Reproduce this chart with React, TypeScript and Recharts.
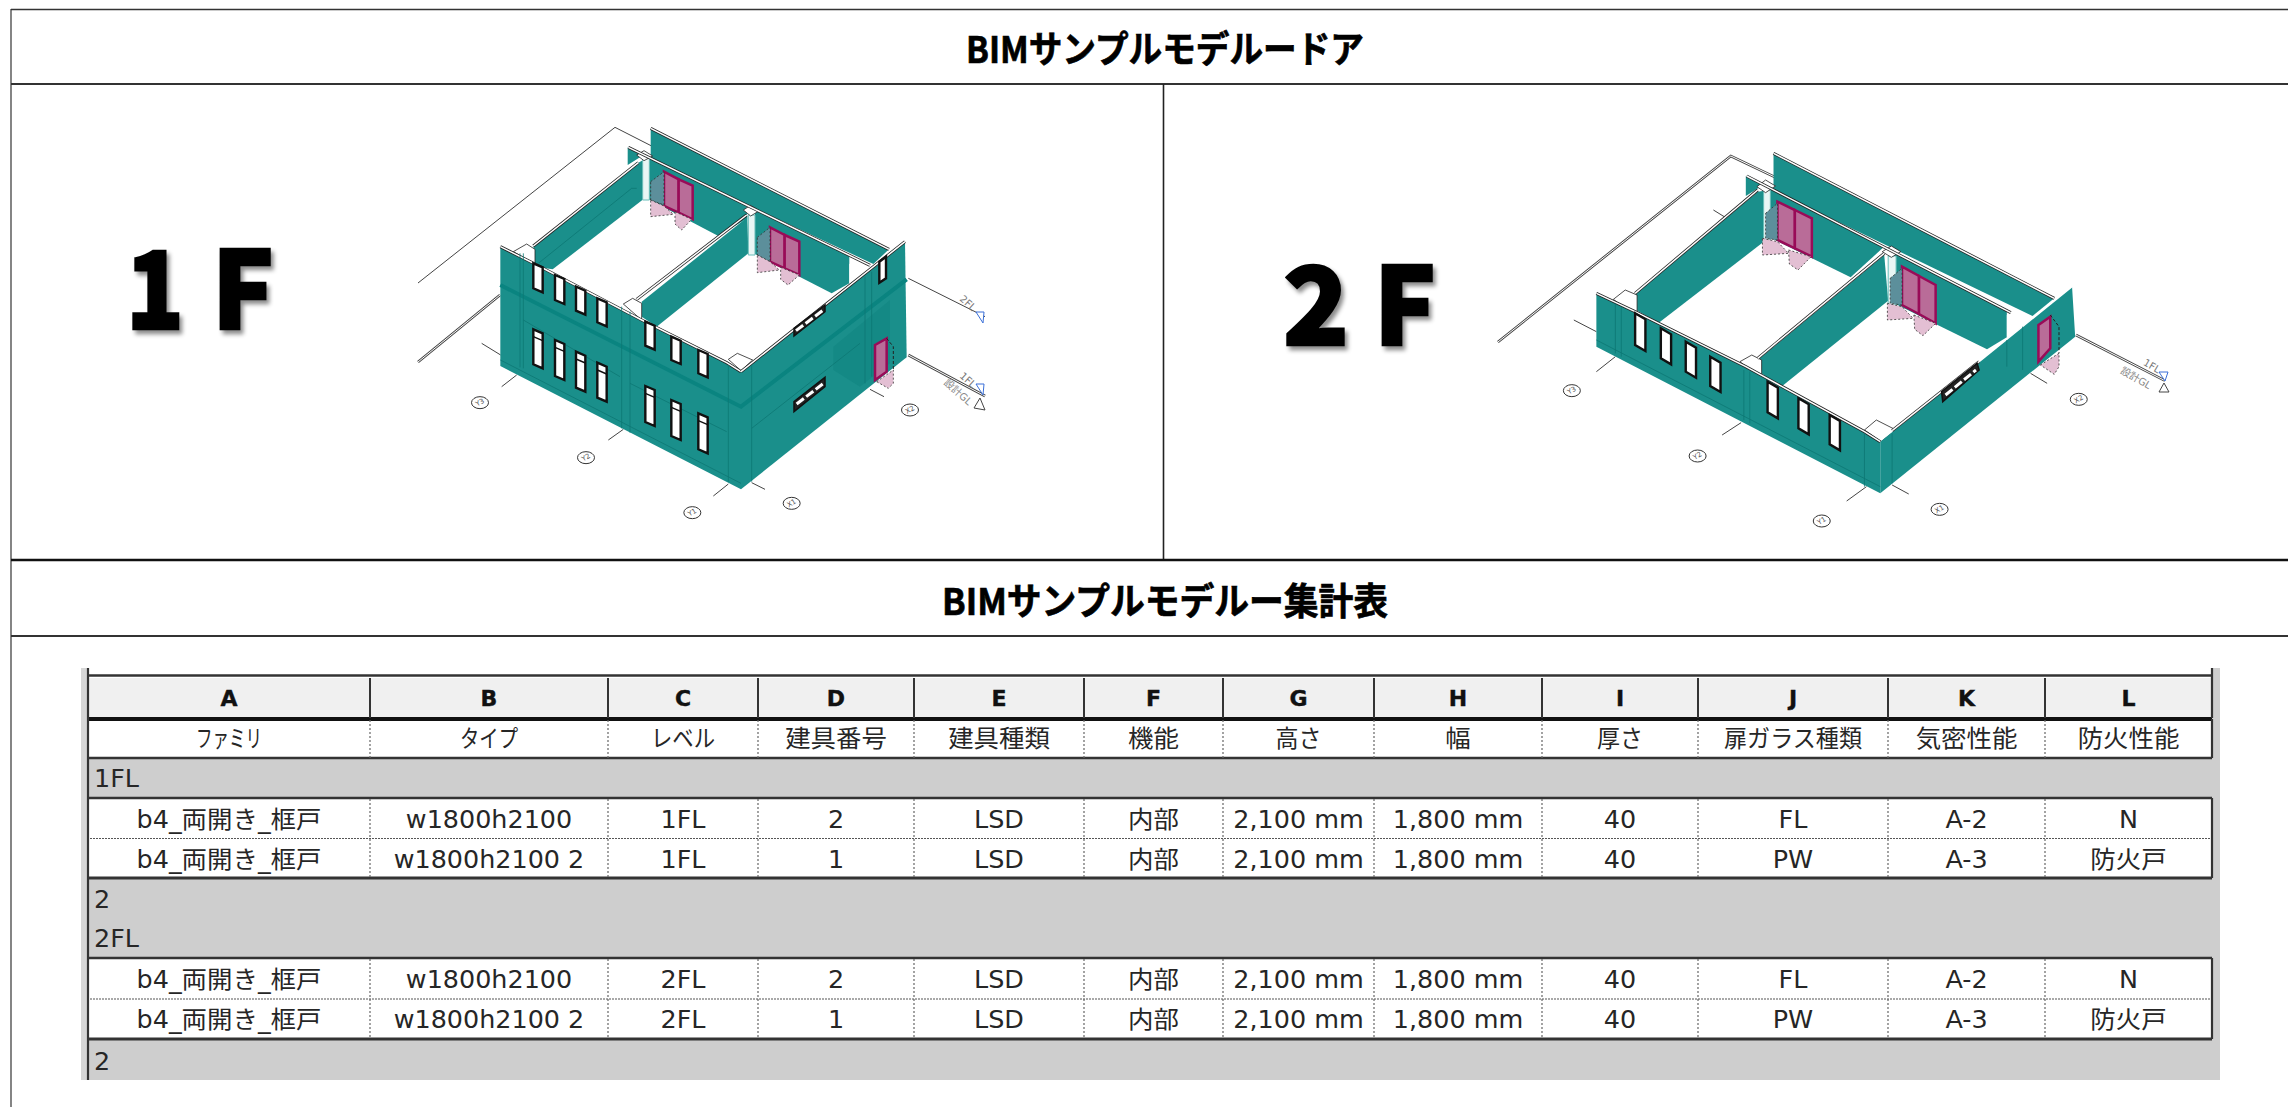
import React from "react";
import { ComposedChart, Scatter, XAxis, YAxis } from "recharts";

const W = 2288, H = 1107;
const CJK = "'DejaVu Sans','Noto Sans CJK JP',sans-serif";
const TEAL = "#1a8f8b", DARK = "#0a8480", INK = "#262626", RULE = "#333333";

/* ---------- text content ---------- */
const titleDoors = "BIMサンプルモデルードア";
const titleTable = "BIMサンプルモデルー集計表";
const columnLetters = ["A", "B", "C", "D", "E", "F", "G", "H", "I", "J", "K", "L"];
const columnNames = ["ファミリ", "タイプ", "レベル", "建具番号", "建具種類", "機能", "高さ", "幅", "厚さ", "扉ガラス種類", "気密性能", "防火性能"];
const doorRow1 = ["b4_両開き_框戸", "w1800h2100", "1FL", "2", "LSD", "内部", "2,100 mm", "1,800 mm", "40", "FL", "A-2", "N"];
const doorRow2 = ["b4_両開き_框戸", "w1800h2100 2", "1FL", "1", "LSD", "内部", "2,100 mm", "1,800 mm", "40", "PW", "A-3", "防火戸"];
const doorRow3 = ["b4_両開き_框戸", "w1800h2100", "2FL", "2", "LSD", "内部", "2,100 mm", "1,800 mm", "40", "FL", "A-2", "N"];
const doorRow4 = ["b4_両開き_框戸", "w1800h2100 2", "2FL", "1", "LSD", "内部", "2,100 mm", "1,800 mm", "40", "PW", "A-3", "防火戸"];
const groupLabels = ["1FL", "2", "2FL", "2"];

/* ---------- table layout ---------- */
const colEdges = [88, 370, 608, 758, 914, 1084, 1223, 1374, 1542, 1698, 1888, 2045, 2212];
const colCentres = colEdges.slice(0, -1).map((e, i) => (e + colEdges[i + 1]) / 2);
const narrowWidths: Record<string, number> = { "ファミリ": 66, "タイプ": 58, "レベル": 64, "扉ガラス種類": 138, "高さ": 46, "厚さ": 46 };

type P = [number, number];
type Sh = { p: P[]; s: string };

const styles: Record<string, any> = {
  teal: { fill: TEAL },
  dark: { fill: "#148985" },
  white: { fill: "#ffffff" },
  whiteEdge: { fill: "#ffffff", stroke: "#222", sw: 0.8 },
  window: { fill: "#ffffff", stroke: "#111", sw: 2.4 },
  blackWin: { fill: "#222", stroke: "#111", sw: 1.5 },
  door: { fill: "#b96c98", stroke: "#990b58", sw: 2.5 },
  swing: { fill: "#e3bfd3", stroke: "#333", sw: 0.8, dash: "2 2" },
  swingUp: { fill: "#5c8f9b", stroke: "#333", sw: 0.8, dash: "2 2" },
  line: { fill: "none", stroke: "#444", sw: 1 },
  double: { fill: "none", stroke: "#444", sw: 2.6 },
  doubleIn: { fill: "none", stroke: "#fff", sw: 1 },
  band: { fill: "none", stroke: DARK, sw: 4 },
  detail: { fill: "none", stroke: "#0d7774", sw: 0.8 },
  cap: { fill: "none", stroke: "#222", sw: 3 },
  capW: { fill: "none", stroke: "#ffffff", sw: 1.5 },
  white2: { fill: "#e9f6f5", stroke: "#69bdb9", sw: 1 },
  dashBlack: { fill: "none", stroke: "#222", sw: 1, dash: "3 2" },
  slit: { fill: "none", stroke: "#fff", sw: 3, dash: "9 3" },
  mull: { fill: "none", stroke: "#111", sw: 1.4 },
};

/* ---------- 1F model, in zoom-crop units ---------- */
const z5 = ([x, y]: P): P => [460 + x / 3, 120 + y / 3];
const z6 = ([x, y]: P): P => [1560 + x * 0.3954, 140 + y / 3];

const win1Upper: number[][] = [[220, 430, 75], [285, 465, 75], [348, 500, 72], [412, 535, 72], [556, 605, 72], [634, 650, 70], [715, 690, 70]];
const win1Lower: number[][] = [[220, 628, 105], [285, 660, 108], [348, 695, 108], [412, 728, 105], [556, 798, 108], [634, 840, 108], [715, 880, 108]];
const win2Upper: number[][] = [[190, 520, 95], [255, 565, 90], [318, 605, 90], [380, 650, 88], [525, 725, 92], [603, 775, 90], [682, 825, 88]];

const windowShape = (x: number, y: number, h: number, w: number, dy: number): Sh => ({
  p: [[x, y], [x + w, y + dy], [x + w, y + dy + h], [x, y + h]], s: "window",
});
const transom = (x: number, y: number, w: number, dy: number): Sh => ({
  p: [[x, y + 22], [x + w, y + 22 + dy]], s: "mull",
});

const model1: Sh[] = [
  { p: [[-126, 489], [465, 22], [575, 78]], s: "line" },
  { p: [[1345, 475], [1575, 590]], s: "line" },
  { p: [[-126, 726], [120, 525]], s: "double" },
  { p: [[-126, 726], [120, 525]], s: "doubleIn" },
  { p: [[1345, 705], [1575, 828]], s: "double" },
  { p: [[1345, 705], [1575, 828]], s: "doubleIn" },
  { p: [[65, 670], [122, 705]], s: "line" },
  { p: [[125, 800], [170, 765]], s: "line" },
  { p: [[445, 960], [490, 928]], s: "line" },
  { p: [[760, 1128], [805, 1092]], s: "line" },
  { p: [[875, 1088], [915, 1108]], s: "line" },
  { p: [[1230, 808], [1272, 830]], s: "line" },
  { p: [[572, 25], [1287, 388], [1240, 432], [572, 118]], s: "teal" },
  { p: [[503, 82], [552, 104], [503, 135]], s: "teal" },
  { p: [[572, 25], [1287, 388]], s: "cap" },
  { p: [[572, 25], [1287, 388]], s: "capW" },
  { p: [[565, 112], [860, 256], [862, 295], [775, 348], [565, 238]], s: "teal" },
  { p: [[885, 266], [1168, 405], [1168, 490], [1115, 520], [885, 402]], s: "teal" },
  { p: [[220, 378], [535, 128], [550, 120], [550, 238], [278, 448], [225, 440]], s: "teal" },
  { p: [[545, 545], [862, 292], [865, 400], [590, 620], [545, 590]], s: "teal" },
  { p: [[235, 430], [515, 205], [530, 205]], s: "detail" },
  { p: [[548, 112], [568, 112], [568, 240], [548, 240]], s: "white2" },
  { p: [[865, 285], [885, 285], [885, 405], [865, 405]], s: "white2" },
  { p: [[530, 105], [552, 92], [578, 108], [552, 122]], s: "whiteEdge" },
  { p: [[850, 270], [872, 256], [898, 272], [872, 288]], s: "whiteEdge" },
  { p: [[1168, 432], [1195, 420], [1228, 440], [1205, 465], [1205, 495], [1168, 490]], s: "white" },
  { p: [[160, 395], [200, 372], [225, 388], [225, 430], [195, 415]], s: "whiteEdge" },
  { p: [[490, 552], [518, 535], [545, 550], [545, 600]], s: "whiteEdge" },
  { p: [[805, 718], [832, 700], [878, 720], [843, 752]], s: "whiteEdge" },
  { p: [[220, 378], [535, 128]], s: "cap" },
  { p: [[220, 378], [535, 128]], s: "capW" },
  { p: [[530, 538], [860, 285]], s: "cap" },
  { p: [[530, 538], [860, 285]], s: "capW" },
  { p: [[505, 82], [1230, 436]], s: "cap" },
  { p: [[505, 82], [1230, 436]], s: "capW" },
  { p: [[612, 155], [656, 178], [656, 278], [612, 258]], s: "door" },
  { p: [[656, 178], [698, 197], [698, 298], [656, 278]], s: "door" },
  { p: [[572, 185], [612, 155], [612, 255], [572, 240]], s: "swingUp" },
  { p: [[572, 240], [612, 258], [640, 283], [572, 290]], s: "swing" },
  { p: [[645, 275], [695, 298], [665, 330], [645, 312]], s: "swing" },
  { p: [[930, 322], [974, 345], [974, 445], [930, 425]], s: "door" },
  { p: [[974, 345], [1018, 365], [1018, 465], [974, 445]], s: "door" },
  { p: [[892, 352], [930, 322], [930, 425], [892, 405]], s: "swingUp" },
  { p: [[892, 405], [930, 425], [958, 450], [892, 458]], s: "swing" },
  { p: [[962, 442], [1018, 465], [984, 495], [962, 478]], s: "swing" },
  { p: [[121, 380], [225, 432], [545, 600], [800, 728], [843, 755], [843, 1108], [121, 738]], s: "teal" },
  { p: [[843, 755], [1095, 555], [1335, 365], [1340, 712], [843, 1108]], s: "teal" },
  { p: [[121, 380], [225, 432]], s: "cap" },
  { p: [[121, 380], [225, 432]], s: "capW" },
  { p: [[225, 432], [545, 600], [800, 728], [843, 755]], s: "cap" },
  { p: [[225, 432], [545, 600], [800, 728], [843, 755]], s: "capW" },
  { p: [[843, 755], [1095, 555], [1335, 365]], s: "cap" },
  { p: [[843, 755], [1095, 555], [1335, 365]], s: "capW" },
  { p: [[1120, 750], [1200, 800], [1290, 730], [1290, 540], [1120, 680]], s: "dark" },
  { p: [[121, 495], [843, 860], [1340, 478]], s: "band" },
  { p: [[190, 400], [190, 745]], s: "detail" },
  { p: [[180, 400], [180, 742]], s: "detail" },
  { p: [[485, 560], [485, 925]], s: "detail" },
  { p: [[510, 575], [510, 938]], s: "detail" },
  { p: [[805, 735], [805, 1085]], s: "detail" },
  { p: [[875, 735], [875, 1085]], s: "detail" },
  { p: [[875, 925], [1200, 670]], s: "detail" },
  { p: [[1215, 470], [1215, 790]], s: "detail" },
  { p: [[1235, 455], [1235, 770]], s: "detail" },
  { p: [[121, 720], [843, 1090]], s: "detail" },
  { p: [[190, 600], [480, 770]], s: "detail" },
  { p: [[510, 790], [800, 935]], s: "detail" },
  { p: [[1002, 845], [1095, 772], [1095, 800], [1002, 875]], s: "blackWin" },
  { p: [[1010, 852], [1088, 792]], s: "slit" },
  { p: [[1002, 625], [1095, 555], [1095, 575], [1002, 648]], s: "blackWin" },
  { p: [[1008, 632], [1090, 570]], s: "slit" },
  { p: [[1258, 425], [1278, 410], [1278, 475], [1258, 488]], s: "window" },
  { p: [[1245, 675], [1280, 655], [1280, 755], [1245, 780]], s: "door" },
  { p: [[1250, 785], [1300, 750], [1300, 790], [1285, 805]], s: "swing" },
  { p: [[1280, 655], [1300, 680], [1300, 750]], s: "dashBlack" },
];

/* ---------- 2F model ---------- */
const model2: Sh[] = [
  { p: [[-157, 606], [432, 48], [545, 112]], s: "double" },
  { p: [[-157, 606], [432, 48], [545, 112]], s: "doubleIn" },
  { p: [[1305, 585], [1530, 722]], s: "double" },
  { p: [[1305, 585], [1530, 722]], s: "doubleIn" },
  { p: [[35, 540], [92, 575]], s: "line" },
  { p: [[92, 695], [140, 650]], s: "line" },
  { p: [[410, 885], [458, 848]], s: "line" },
  { p: [[725, 1083], [775, 1040]], s: "line" },
  { p: [[840, 1035], [882, 1062]], s: "line" },
  { p: [[1190, 700], [1232, 730]], s: "line" },
  { p: [[388, 210], [418, 232]], s: "line" },
  { p: [[540, 40], [1250, 475], [1195, 528], [540, 152]], s: "teal" },
  { p: [[470, 108], [518, 132], [470, 168]], s: "teal" },
  { p: [[540, 40], [1250, 475]], s: "cap" },
  { p: [[540, 40], [1250, 475]], s: "capW" },
  { p: [[530, 146], [818, 322], [735, 412], [530, 292]], s: "teal" },
  { p: [[845, 338], [1130, 512], [1130, 592], [1080, 628], [950, 552], [845, 490]], s: "teal" },
  { p: [[190, 462], [500, 155], [530, 150], [530, 292], [250, 548], [195, 512]], s: "teal" },
  { p: [[505, 655], [820, 345], [830, 482], [555, 745], [510, 700]], s: "teal" },
  { p: [[515, 150], [532, 150], [532, 300], [515, 300]], s: "white2" },
  { p: [[830, 348], [850, 348], [850, 495], [830, 495]], s: "white2" },
  { p: [[498, 140], [520, 120], [545, 138], [520, 158]], s: "whiteEdge" },
  { p: [[815, 335], [838, 318], [862, 335], [838, 352]], s: "whiteEdge" },
  { p: [[1130, 525], [1155, 512], [1190, 535], [1165, 560], [1165, 610], [1130, 590]], s: "white" },
  { p: [[135, 478], [165, 450], [195, 465], [195, 515], [160, 500]], s: "whiteEdge" },
  { p: [[455, 665], [485, 645], [510, 660], [510, 715]], s: "whiteEdge" },
  { p: [[770, 870], [800, 840], [850, 870], [812, 905]], s: "whiteEdge" },
  { p: [[190, 460], [500, 150]], s: "cap" },
  { p: [[190, 460], [500, 150]], s: "capW" },
  { p: [[500, 655], [820, 340]], s: "cap" },
  { p: [[500, 655], [820, 340]], s: "capW" },
  { p: [[472, 108], [1140, 518]], s: "cap" },
  { p: [[472, 108], [1140, 518]], s: "capW" },
  { p: [[550, 185], [594, 210], [594, 325], [550, 300]], s: "door" },
  { p: [[594, 210], [637, 235], [637, 350], [594, 325]], s: "door" },
  { p: [[520, 220], [550, 190], [550, 300], [520, 295]], s: "swingUp" },
  { p: [[512, 295], [550, 305], [578, 340], [512, 345]], s: "swing" },
  { p: [[578, 330], [635, 350], [602, 390], [580, 372]], s: "swing" },
  { p: [[865, 380], [908, 408], [908, 522], [865, 495]], s: "door" },
  { p: [[908, 408], [950, 435], [950, 550], [908, 522]], s: "door" },
  { p: [[835, 415], [865, 385], [865, 495], [835, 490]], s: "swingUp" },
  { p: [[828, 490], [865, 500], [893, 535], [828, 540]], s: "swing" },
  { p: [[895, 525], [950, 550], [918, 587], [897, 568]], s: "swing" },
  { p: [[92, 460], [190, 515], [470, 680], [770, 875], [810, 905], [810, 1060], [92, 620]], s: "teal" },
  { p: [[810, 905], [1060, 665], [1295, 440], [1303, 590], [810, 1060]], s: "teal" },
  { p: [[92, 460], [190, 515]], s: "cap" },
  { p: [[92, 460], [190, 515]], s: "capW" },
  { p: [[190, 515], [470, 680], [770, 875], [810, 905]], s: "cap" },
  { p: [[190, 515], [470, 680], [770, 875], [810, 905]], s: "capW" },
  { p: [[840, 872], [1060, 665]], s: "cap" },
  { p: [[840, 872], [1060, 665]], s: "capW" },
  { p: [[1060, 665], [1295, 440]], s: "capW" },
  { p: [[92, 600], [810, 1040]], s: "detail" },
  { p: [[140, 490], [140, 640]], s: "detail" },
  { p: [[155, 500], [155, 650]], s: "detail" },
  { p: [[465, 690], [465, 840]], s: "detail" },
  { p: [[480, 695], [480, 850]], s: "detail" },
  { p: [[770, 880], [770, 1040]], s: "detail" },
  { p: [[840, 880], [840, 1030]], s: "detail" },
  { p: [[1130, 600], [1130, 680]], s: "detail" },
  { p: [[1170, 560], [1170, 690]], s: "detail" },
  { p: [[965, 755], [1055, 670], [1060, 690], [968, 785]], s: "blackWin" },
  { p: [[975, 765], [1052, 690]], s: "slit" },
  { p: [[1210, 555], [1240, 530], [1240, 625], [1210, 665]], s: "door" },
  { p: [[1215, 675], [1262, 640], [1262, 680], [1250, 703]], s: "swing" },
  { p: [[1240, 525], [1262, 560], [1262, 640]], s: "dashBlack" },
];

type Mark = { x: number; y: number; text: string; rot?: number; color?: string };
const bubbles1: P[] = [[60, 848], [378, 1013], [697, 1178], [995, 1150], [1350, 870]].map((p) => z5(p as P));
const bubbles2: P[] = [[30, 752], [348, 948], [662, 1143], [960, 1108], [1312, 778]].map((p) => z6(p as P));
const bubbleNames = ["Y3", "Y2", "Y1", "X1", "X2"];

const levelMarks: Mark[] = [
  { x: 968, y: 303, text: "2FL", rot: 42, color: "#777" },
  { x: 968, y: 380, text: "1FL", rot: 42, color: "#777" },
  { x: 958, y: 392, text: "設計GL", rot: 42, color: "#888" },
  { x: 2152, y: 366, text: "1FL", rot: 30, color: "#777" },
  { x: 2136, y: 378, text: "設計GL", rot: 30, color: "#888" },
];
const levelTris: { p: P[]; c: string }[] = [
  { p: [[976, 312], [984, 312], [983, 323]], c: "#3a6fd8" },
  { p: [[976, 384], [984, 384], [983, 395]], c: "#3a6fd8" },
  { p: [[980, 398], [985, 410], [974, 408]], c: "#444" },
  { p: [[2159, 372], [2168, 372], [2165, 381]], c: "#3a6fd8" },
  { p: [[2164, 383], [2169, 392], [2159, 392]], c: "#444" },
];

/* ---------- page rules ---------- */
const rect = (x0: number, y0: number, x1: number, y1: number): P[] => [[x0, y0], [x1, y0], [x1, y1], [x0, y1]];
const toRow = (e: string[], y: number) => e.map((text, i) => ({ x: colCentres[i], y, text }));

const noDot = () => <g />;
const polyLine = (fill: string, stroke?: string, sw?: number, dash?: string) => (props: any) => {
  const pts = (props.points || []).map((q: any) => `${q.x},${q.y}`).join(" ");
  return fill === "none"
    ? <polyline points={pts} fill="none" stroke={stroke} strokeWidth={sw} strokeDasharray={dash} />
    : <polygon points={pts} fill={fill} stroke={stroke} strokeWidth={sw} strokeDasharray={dash} />;
};

let uid = 0;
const draw = (p: P[], fill: string, stroke?: string, sw?: number, dash?: string) => (
  <Scatter key={`s${uid++}`} data={p.map(([x, y]) => ({ x, y }))} line={polyLine(fill, stroke, sw, dash) as any} shape={noDot as any} isAnimationActive={false} />
);
const hline = (y: number, x0: number, x1: number, sw: number, color = RULE, dash?: string) => draw([[x0, y], [x1, y]], "none", color, sw, dash);
const vline = (x: number, y0: number, y1: number, sw: number, color = RULE, dash?: string) => draw([[x, y0], [x, y1]], "none", color, sw, dash);
const drawShape = (sh: Sh, conv: (p: P) => P) => {
  const st = styles[sh.s];
  return draw(sh.p.map(conv), st.fill, st.stroke, st.sw, st.dash);
};

const textSeries = (data: any[], render: (p: any) => React.ReactElement) => (
  <Scatter key={`t${uid++}`} data={data} shape={render as any} isAnimationActive={false} />
);

const cellText = (p: any) => {
  const t: string = p.payload.text;
  const fixed = narrowWidths[t];
  const sx = 1.06;
  return (
    <text
      transform={`translate(${p.cx},${p.cy}) scale(${fixed ? 1 : sx},1)`}
      textAnchor="middle" dominantBaseline="central"
      fontFamily={CJK} fontSize={24} fill={INK}
      {...(fixed ? { textLength: fixed, lengthAdjust: "spacingAndGlyphs" } : {})}
    >{t}</text>
  );
};
const groupText = (p: any) => (
  <text transform={`translate(${p.cx},${p.cy}) scale(1.06,1)`} dominantBaseline="central" fontFamily={CJK} fontSize={24} fill={INK}>{p.payload.text}</text>
);
const letterText = (p: any) => (
  <text x={p.cx} y={p.cy} textAnchor="middle" dominantBaseline="central" fontFamily="'DejaVu Sans',sans-serif" fontWeight={700} fontSize={22} fill="#111" stroke="#111" strokeWidth={0.4}>{p.payload.text}</text>
);
const titleText = (p: any) => (
  <text x={p.cx} y={p.cy} textAnchor="middle" dominantBaseline="central" fontFamily="'Noto Sans CJK JP',sans-serif" fontWeight={700} fontSize={37} fill="#000" stroke="#000" strokeWidth={0.7} textLength={p.payload.w} lengthAdjust="spacingAndGlyphs">{p.payload.text}</text>
);
const bigText = (p: any) => (
  <text x={p.cx} y={p.cy} textAnchor="start" fontFamily="'Noto Sans CJK JP',sans-serif" fontWeight={900} fontSize={108} fill="#000" stroke="#000" strokeWidth={2.5} textLength={p.payload.w} lengthAdjust="spacingAndGlyphs" style={{ filter: "drop-shadow(3px 4px 2px rgba(0,0,0,0.45))" }}>{p.payload.text}</text>
);
const bubble = (p: any) => (
  <g>
    <ellipse cx={p.cx} cy={p.cy} rx={8.5} ry={6} fill="#fff" stroke="#333" strokeWidth={1} />
    <text x={p.cx} y={p.cy} textAnchor="middle" dominantBaseline="central" fontSize={7} fontFamily={CJK} fill="#555" transform={`rotate(-30 ${p.cx} ${p.cy})`}>{p.payload.text}</text>
  </g>
);
const levelText = (p: any) => (
  <text x={p.cx} y={p.cy} textAnchor="middle" dominantBaseline="central" fontSize={10} fontFamily={CJK} fill={p.payload.color} transform={`rotate(${p.payload.rot} ${p.cx} ${p.cy})`}>{p.payload.text}</text>
);

const tableRows = [
  { cells: doorRow1, y: 819.5 },
  { cells: doorRow2, y: 859.5 },
  { cells: doorRow3, y: 979.5 },
  { cells: doorRow4, y: 1019.5 },
];
const groupYs = [779, 900, 939, 1062];

export default function App() {
  uid = 0;
  const innerCols = colEdges.slice(1, -1);
  return (
    <div style={{ position: "absolute", left: 0, top: 0, width: W, height: H, background: "#fff" }}>
      <ComposedChart width={W} height={H} margin={{ top: 0, right: 0, bottom: 0, left: 0 }} style={{ background: "#fff" }}>
        <XAxis type="number" dataKey="x" domain={[0, W]} hide />
        <YAxis type="number" dataKey="y" domain={[0, H]} reversed hide />

        {/* sheet frame */}
        {hline(9.5, 11, W, 1.5)}
        {vline(11, 9, H, 1.2)}
        {hline(84, 11, W, 2)}
        {vline(1163.5, 84, 560, 1.6, "#222")}
        {hline(560, 11, W, 2.5, "#111")}
        {hline(636, 11, W, 2)}

        {textSeries([{ x: 1165, y: 47, text: titleDoors, w: 398 }], titleText)}
        {textSeries([{ x: 1165, y: 599, text: titleTable, w: 446 }], titleText)}
        {textSeries([{ x: 126, y: 329, text: "1", w: 58 }], bigText)}
        {textSeries([{ x: 212, y: 329, text: "F", w: 62 }], bigText)}
        {textSeries([{ x: 1283, y: 345, text: "2", w: 66 }], bigText)}
        {textSeries([{ x: 1374, y: 345, text: "F", w: 62 }], bigText)}

        {/* 1F model */}
        {model1.map((s) => drawShape(s, z5))}
        {win1Upper.map(([x, y, h]) => drawShape(windowShape(x, y, h, 28, 12), z5))}
        {win1Lower.map(([x, y, h]) => drawShape(windowShape(x, y, h, 28, 12), z5))}
        {win1Lower.map(([x, y]) => drawShape(transom(x, y, 28, 12), z5))}
        {textSeries(bubbles1.map(([x, y], i) => ({ x, y, text: bubbleNames[i] })), bubble)}

        {/* 2F model */}
        {model2.map((s) => drawShape(s, z6))}
        {win2Upper.map(([x, y, h]) => drawShape(windowShape(x, y, h, 26, 18), z6))}
        {textSeries(bubbles2.map(([x, y], i) => ({ x, y, text: bubbleNames[i] })), bubble)}

        {levelTris.map((t) => draw(t.p, "#fff", t.c, 1))}
        {textSeries(levelMarks, levelText)}

        {/* schedule table */}
        {draw(rect(81, 668, 87, 1080), "#d6d6d6")}
        {draw(rect(88, 758, 2220, 1080), "#cecece")}
        {draw(rect(2212, 668, 2220, 758), "#cecece")}
        {draw(rect(88, 678, 2212, 718), "#f0f0f0")}
        {draw(rect(88, 719, 2212, 758), "#ffffff")}
        {draw(rect(88, 798, 2212, 878), "#ffffff")}
        {draw(rect(88, 958, 2212, 1039), "#ffffff")}

        {hline(675.5, 87, 2212, 2.5)}
        {hline(719, 87, 2212, 4, "#111")}
        {hline(758, 87, 2212, 2.5)}
        {hline(798, 87, 2212, 2.5)}
        {hline(838.5, 87, 2212, 1.2, "#555", "2 1")}
        {hline(878, 87, 2212, 3)}
        {hline(958, 87, 2212, 2.5)}
        {hline(999, 87, 2212, 1.2, "#555", "2 1")}
        {hline(1039, 87, 2212, 3)}
        {vline(88, 668, 1080, 2.2)}
        {vline(2212, 668, 718, 2.2)}
        {vline(2212, 719, 758, 2.2)}
        {vline(2212, 798, 878, 2.2)}
        {vline(2212, 958, 1039, 2.2)}
        {innerCols.map((x) => vline(x, 678, 718, 2))}
        {innerCols.map((x) => vline(x, 720, 758, 1.2, "#666", "2 2"))}
        {innerCols.map((x) => vline(x, 799, 878, 1.2, "#666", "2 2"))}
        {innerCols.map((x) => vline(x, 959, 1039, 1.2, "#666", "2 2"))}

        {textSeries(toRow(columnLetters, 698), letterText)}
        {textSeries(toRow(columnNames, 739), cellText)}
        {tableRows.map((r) => textSeries(toRow(r.cells, r.y), cellText))}
        {textSeries(groupLabels.map((text, i) => ({ x: 94, y: groupYs[i], text })), groupText)}
      </ComposedChart>
    </div>
  );
}
